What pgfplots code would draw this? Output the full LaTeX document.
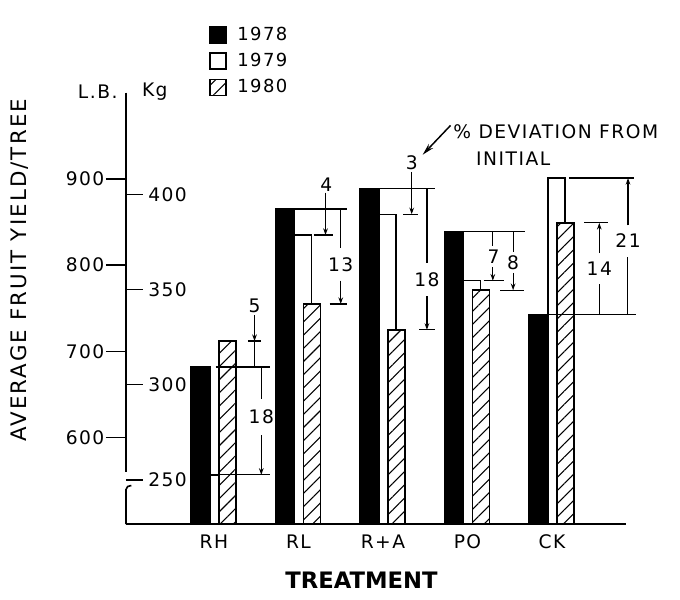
\documentclass[border=0pt]{standalone}
\usepackage{fontspec}
\setmainfont{DejaVu Sans}[LetterSpace=8]
\usepackage{pgfplots}
\pgfplotsset{compat=1.18}
\usetikzlibrary{patterns.meta,arrows.meta}
\newcommand\f{\fontsize{14}{17}\selectfont}
\pgfplotsset{sq/.style={legend image code/.code={\draw[#1, line width=1pt] (0pt,-6pt) rectangle (12pt,6pt); \path (18pt,0pt);}}}
\begin{document}
\begin{tikzpicture}[
  dim/.style={line width=0.9pt},
  arr/.style={line width=0.9pt, -{Stealth[length=5pt,width=3.5pt]}},
  lab/.style={font=\f, inner sep=0pt}]
\useasboundingbox (-94.5pt,-56.25pt) rectangle (415.5pt,393pt);
\begin{axis}[
  at={(0,0)}, anchor=south west,
  scale only axis, width=375pt, height=323.55pt,
  xmin=-0.041, xmax=5.876, ymin=500, ymax=1000,
  axis x line*=bottom, axis y line*=left,
  x axis line style={line width=1.2pt},
  y axis line style={draw=none},
  clip mode=individual,
  xtick={1,2,3,4,5}, xticklabels={RH,RL,R+A,PO,CK},
  xtick style={draw=none},
  ytick={600,700,800,900},
  tick align=outside, major tick length=15pt,
  ytick style={line width=1pt, black},
  extra y ticks={551.16,661.39,771.62,881.85}, extra y tick labels={},
  extra y tick style={tick align=inside, major tick length=12.75pt},
  tick label style={font=\f},
  /pgf/number format/assume math mode=true,
  yticklabel style={inner sep=1pt},
  xticklabel style={yshift=10.5pt},
  xlabel={TREATMENT}, ylabel={AVERAGE FRUIT YIELD/TREE},
  xlabel style={at={(axis description cs:0.471,-0.131)}, anchor=center,
    font=\fontsize{17}{20}\selectfont\bfseries\addfontfeatures{LetterSpace=0}},
  ylabel style={at={(axis description cs:-0.213,0.588)}, anchor=center,
    font=\fontsize{16}{19}\selectfont\addfontfeatures{LetterSpace=10}},
  legend style={at={(axis description cs:0.158,1.164)}, anchor=north west, draw=none, fill=none,
    font=\fontsize{13.5}{16}\selectfont, row sep=4pt},
  legend cell align=left,
]
\addplot[ybar, bar width=0.225, bar shift=-0.1575, draw=black, fill=black, line width=1pt, sq]
  coordinates {(1,682) (2,865) (3,889) (4,839) (5,743)};
\addplot[ybar, bar width=0.2, bar shift=0.055, draw=black, fill=white, line width=1.1pt, sq]
  coordinates {(1,557) (2,835) (3,859) (4,782) (5,901)};
\addplot[ybar, bar width=0.2, bar shift=0.16, draw=black, fill=white, line width=1.1pt,
  postaction={pattern={Lines[angle=45,distance=7pt,line width=0.8pt]}}, sq]
  coordinates {(1,712) (2,755) (3,725) (4,771) (5,849)};
\legend{1978,1979,1980}

% y axis line with break
\draw[line width=1.2pt] (-0.041,1000) -- (-0.041,560);
\draw[line width=1pt] (-0.041,558) ++(-5pt,0) sin ++(2.5pt,2pt) cos ++(2.5pt,-2pt) sin ++(2.5pt,-2pt) cos ++(2.5pt,2pt);
\draw[line width=1.2pt] (-0.041,500) -- (-0.041,540) to[out=90,in=180] ++(4pt,3pt);
% Kg labels
\node[lab, anchor=west, xshift=16.5pt] at (-0.041,551.16) {250};
\node[lab, anchor=west, xshift=16.5pt] at (-0.041,661.39) {300};
\node[lab, anchor=west, xshift=16.5pt] at (-0.041,771.62) {350};
\node[lab, anchor=west, xshift=16.5pt] at (-0.041,881.85) {400};
\node[font=\f] at (-0.375,1001) {L.B.};
\node[font=\f] at (0.30,1001) {Kg};

% RH
\draw[dim] (1.02,682) -- (1.66,682);
\draw[dim] (0.955,557) -- (1.66,557);
\draw[dim] (1.40,712) -- (1.56,712);
\node[lab] at (1.48,753) {5};
\draw[arr] (1.48,742) -- (1.48,712);
\draw[dim] (1.48,712) -- (1.48,682);
\draw[dim] (1.56,682) -- (1.56,645);
\node[lab] at (1.56,624) {18};
\draw[arr] (1.56,603) -- (1.56,557);
% RL
\draw[dim] (1.955,865) -- (2.57,865);
\draw[dim] (2.18,835) -- (2.41,835);
\node[lab] at (2.33,893) {4};
\draw[arr] (2.32,884) -- (2.32,835);
\draw[dim] (2.37,755) -- (2.58,755);
\draw[dim] (2.50,865) -- (2.50,820);
\node[lab] at (2.50,801) {13};
\draw[arr] (2.50,782) -- (2.50,755);
% R+A
\draw[dim] (2.955,889) -- (3.62,889);
\draw[dim] (3.24,859) -- (3.41,859);
\node[lab] at (3.34,919) {3};
\draw[arr] (3.34,908) -- (3.34,859);
\draw[dim] (3.43,725) -- (3.61,725);
\draw[dim] (3.52,889) -- (3.52,803);
\node[lab] at (3.52,783) {18};
\draw[arr] (3.52,764) -- (3.52,725);
% PO
\draw[dim] (3.955,839) -- (4.68,839);
\draw[dim] (4.19,782) -- (4.43,782);
\draw[dim] (4.30,839) -- (4.30,822);
\node[lab] at (4.31,810) {7};
\draw[arr] (4.30,798) -- (4.30,782);
\draw[dim] (4.39,771) -- (4.67,771);
\draw[dim] (4.54,839) -- (4.54,815);
\node[lab] at (4.54,803) {8};
\draw[arr] (4.54,791) -- (4.54,771);
% CK
\draw[dim] (4.955,743) -- (5.99,743);
\draw[dim] (5.20,901) -- (5.97,901);
\draw[dim] (5.38,849) -- (5.66,849);
\draw[dim] (5.56,743) -- (5.56,778);
\node[lab] at (5.56,796) {14};
\draw[arr] (5.56,814) -- (5.56,849);
\draw[dim] (5.89,743) -- (5.89,810);
\node[lab] at (5.90,828) {21};
\draw[arr] (5.90,846) -- (5.90,901);
% deviation note
\node[lab, anchor=west] at (3.83,955) {\% DEVIATION FROM};
\node[lab, anchor=west] at (4.10,923) {INITIAL};
\draw[line width=1.1pt, -{Stealth[length=9pt,width=4.5pt]}] (3.80,962) -- (3.47,928);
\end{axis}
\end{tikzpicture}
\end{document}
